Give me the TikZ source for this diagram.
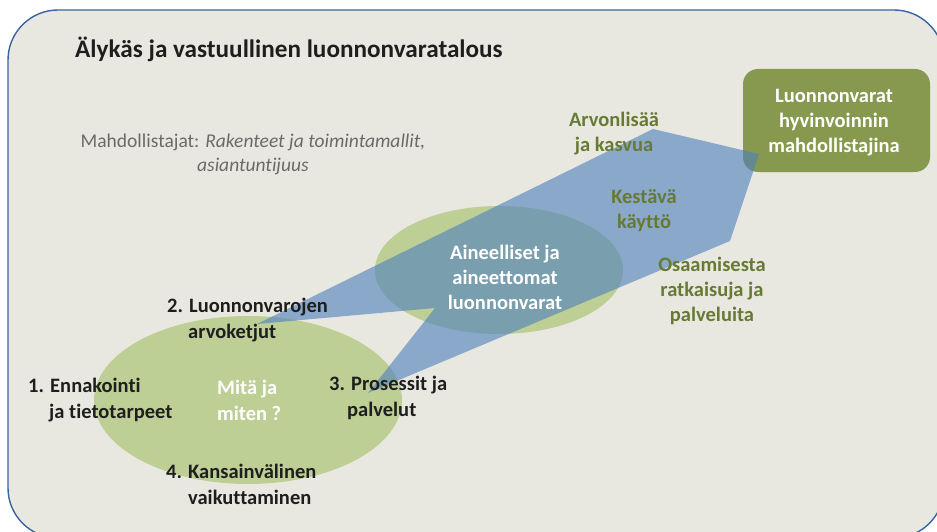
\documentclass[tikz,border=0pt]{standalone}
\usepackage{fontspec}
\setmainfont{Carlito}[Ligatures={NoCommon}]
\usetikzlibrary{shapes.geometric}
\definecolor{bgfill}{HTML}{E9E8E0}
\definecolor{bgline}{HTML}{3A64A0}
\definecolor{ellgreen}{HTML}{9BBB59}
\definecolor{arrowblue}{HTML}{4F81BD}
\definecolor{boxgreen}{HTML}{86994F}
\definecolor{olivetext}{HTML}{677A34}
\definecolor{graytext}{HTML}{6A6A6A}
\definecolor{darktext}{HTML}{1E1E1E}
\tikzset{
  lbl/.style={font=\fontsize{20.5}{26}\selectfont\bfseries, inner sep=0pt, align=left, anchor=west, text=darktext},
  clbl/.style={font=\fontsize{20.5}{25}\selectfont\bfseries, inner sep=0pt, align=center},
  ell/.style={fill=ellgreen, fill opacity=0.55, draw=none, ellipse, inner sep=0pt},
}
\begin{document}
\begin{tikzpicture}[x=1pt,y=-1pt]
\useasboundingbox (0,0) rectangle (937,532);
\clip (0,0) rectangle (937,532);
% background panel
\draw[bgline, line width=1.4pt, fill=bgfill, rounded corners=50pt] (8,10) rectangle (944,538);
% ellipses
\node[ell, minimum width=308pt, minimum height=168pt] (big) at (248,400) {};
\node[ell, minimum width=248pt, minimum height=128pt] (mid) at (499,270) {};
% green box
\node[fill=boxgreen, rounded corners=15pt, minimum width=187pt, minimum height=103pt, inner sep=0pt] (goal) at (836.5,120.5) {};
% blue arrow
\coordinate (tipL) at (257,324);
\coordinate (topV) at (653,129);
\coordinate (rU) at (759,154);
\coordinate (rL) at (730,241);
\coordinate (tipB) at (368,393);
\coordinate (notch) at (435,308);
\fill[arrowblue, fill opacity=0.62] (tipL) -- (topV) -- (rU) -- (rL) -- (tipB) -- (notch) -- cycle;
% texts
\node[anchor=west, inner sep=0pt, font=\fontsize{25.2}{30}\selectfont\bfseries, text=darktext] (title) at (75,49) {Älykäs ja vastuullinen luonnonvaratalous};
\node[align=center, inner sep=0pt, font=\fontsize{19.5}{24}\selectfont, text=graytext] (enab) at (253,154) {Mahdollistajat: \textit{Rakenteet ja toimintamallit,}\\\textit{asiantuntijuus}};
\node[clbl, text=white] (goaltxt) at (834,123) {Luonnonvarat\\hyvinvoinnin\\mahdollistajina};
\node[clbl, text=white] (midtxt) at (505,277) {Aineelliset ja\\aineettomat\\luonnonvarat};
\node[clbl, text=olivetext] (arvo) at (614,134) {Arvonlisää\\ja kasvua};
\node[clbl, text=olivetext] (kest) at (644,210.5) {Kestävä\\käyttö};
\node[clbl, text=olivetext] (osaa) at (712,291) {Osaamisesta\\ratkaisuja ja\\palveluita};
\node[lbl] (l1) at (28,400) {1. Ennakointi\\\hspace*{21pt}ja tietotarpeet};
\node[lbl] (l2) at (167,320.5) {2. Luonnonvarojen\\\hspace*{21pt}arvoketjut};
\node[lbl] (l3) at (329,398) {3. Prosessit ja\\\hspace*{18pt}palvelut};
\node[lbl] (l4) at (166,484.5) {4. Kansainvälinen\\\hspace*{22pt}vaikuttaminen};
\node[lbl, text=white] (mita) at (217,400) {Mitä ja\\miten ?};
\end{tikzpicture}
\end{document}
